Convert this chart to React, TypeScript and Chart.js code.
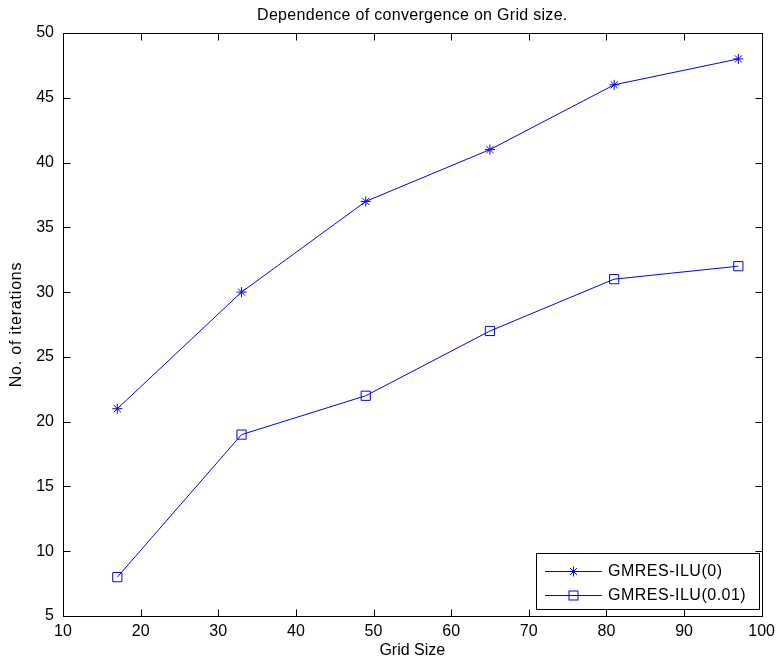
import React, { useEffect, useRef } from "react";
import { Chart, registerables } from "chart.js";

Chart.register(...registerables);

const gridSizes = [17, 33, 49, 65, 81, 97];
const gmresIlu0 = [21, 30, 37, 41, 46, 48];
const gmresIlu001 = [8, 19, 22, 27, 31, 32];
const seriesLabels = ["GMRES-ILU(0)", "GMRES-ILU(0.01)"];
const xTicks = [10, 20, 30, 40, 50, 60, 70, 80, 90, 100];
const yTicks = [5, 10, 15, 20, 25, 30, 35, 40, 45, 50];
const titleText = "Dependence of convergence on Grid size.";
const xTitle = "Grid Size";
const yTitle = "No. of iterations";

const FONT = "'Liberation Sans', Arial, Helvetica, sans-serif";
const BLUE = "rgb(0,0,255)";

function drawStar(ctx: CanvasRenderingContext2D, x: number, y: number, r: number) {
  ctx.beginPath();
  ctx.moveTo(x - r, y); ctx.lineTo(x + r, y);
  ctx.moveTo(x, y - r); ctx.lineTo(x, y + r);
  const d = r * Math.SQRT1_2;
  ctx.moveTo(x - d, y - d); ctx.lineTo(x + d, y + d);
  ctx.moveTo(x - d, y + d); ctx.lineTo(x + d, y - d);
  ctx.stroke();
}

const framePlugin = {
  id: "matlabFrame",
  afterDraw(chart: any) {
    const { ctx, chartArea } = chart;
    const { left, right, top, bottom } = chartArea;
    const xs = chart.scales.x;
    const ys = chart.scales.y;
    ctx.save();
    ctx.strokeStyle = "#000";
    ctx.lineWidth = 1;
    const L = Math.round(left) + 0.5, R = Math.round(right) + 0.5;
    const T = Math.round(top) + 0.5, B = Math.round(bottom) + 0.5;
    ctx.strokeRect(L, T, R - L, B - T);
    const tl = 7;
    ctx.beginPath();
    xTicks.forEach((v) => {
      const px = Math.round(xs.getPixelForValue(v)) + 0.5;
      ctx.moveTo(px, B); ctx.lineTo(px, B - tl);
      ctx.moveTo(px, T); ctx.lineTo(px, T + tl);
    });
    yTicks.forEach((v) => {
      const py = Math.round(ys.getPixelForValue(v)) + 0.5;
      ctx.moveTo(L, py); ctx.lineTo(L + tl, py);
      ctx.moveTo(R, py); ctx.lineTo(R - tl, py);
    });
    ctx.stroke();

    // title and axis titles
    ctx.fillStyle = "#000";
    ctx.font = `16px ${FONT}`;
    ctx.textAlign = "center";
    ctx.textBaseline = "middle";
    const cx = (left + right) / 2;
    (ctx as any).letterSpacing = "0.3px";
    ctx.fillText(titleText, cx, 16);
    (ctx as any).letterSpacing = "0px";
    ctx.fillText(xTitle, cx, 651);
    ctx.save();
    ctx.translate(17, (top + bottom) / 2);
    ctx.rotate(-Math.PI / 2);
    (ctx as any).letterSpacing = "0.8px";
    ctx.fillText(yTitle, 0, 0);
    ctx.restore();

    // legend
    const lx = 536.5, ly = 553.5, lw = 223, lh = 56;
    ctx.fillStyle = "#fff";
    ctx.fillRect(lx, ly, lw, lh);
    ctx.strokeStyle = "#000";
    ctx.strokeRect(lx, ly, lw, lh);
    const rows = [571, 595];
    ctx.strokeStyle = BLUE;
    rows.forEach((ry, i) => {
      ctx.beginPath();
      ctx.moveTo(545, ry + 0.5);
      ctx.lineTo(602, ry + 0.5);
      ctx.stroke();
      if (i === 0) drawStar(ctx, 573.5, ry + 0.5, 5);
      else ctx.strokeRect(569, ry - 4, 9, 9);
    });
    ctx.fillStyle = "#000";
    ctx.textAlign = "left";
    ctx.textBaseline = "middle";
    (ctx as any).letterSpacing = "0.5px";
    rows.forEach((ry, i) => ctx.fillText(seriesLabels[i], 608, ry + 1));
    (ctx as any).letterSpacing = "0px";
    ctx.restore();
  },
};

export default function App() {
  const ref = useRef<HTMLCanvasElement | null>(null);
  useEffect(() => {
    if (!ref.current) return;
    const chart = new Chart(ref.current, {
      type: "line",
      data: {
        datasets: [
          {
            label: seriesLabels[0],
            data: gridSizes.map((x, i) => ({ x, y: gmresIlu0[i] })),
            borderColor: BLUE,
            backgroundColor: BLUE,
            borderWidth: 1,
            pointStyle: "star",
            pointRadius: 5,
            pointBorderWidth: 1,
            pointBorderColor: BLUE,
            tension: 0,
          },
          {
            label: seriesLabels[1],
            data: gridSizes.map((x, i) => ({ x, y: gmresIlu001[i] })),
            borderColor: BLUE,
            backgroundColor: "transparent",
            borderWidth: 1,
            pointStyle: "rect",
            pointRadius: 6.5,
            pointBorderWidth: 1,
            pointBorderColor: BLUE,
            pointBackgroundColor: "transparent",
            tension: 0,
          },
        ],
      },
      options: {
        animation: false,
        responsive: false,
        maintainAspectRatio: false,
        layout: { padding: { top: 33, right: 14, left: 0, bottom: 0 } },
        plugins: {
          legend: { display: false },
          title: { display: false },
          tooltip: { enabled: false },
        },
        scales: {
          x: {
            type: "linear",
            min: 10,
            max: 100,
            grid: { display: false, drawTicks: false },
            border: { display: false },
            afterFit: (s: any) => { s.height = 45; },
            afterBuildTicks: (s: any) => { s.ticks = xTicks.map((v) => ({ value: v })); },
            ticks: {
              padding: 6,
              maxRotation: 0,
              color: "#000",
              font: { family: FONT, size: 16 },
            },
          },
          y: {
            type: "linear",
            min: 5,
            max: 50,
            grid: { display: false, drawTicks: false },
            border: { display: false },
            afterFit: (s: any) => { s.width = 63; },
            afterBuildTicks: (s: any) => { s.ticks = yTicks.map((v) => ({ value: v })); },
            ticks: {
              padding: 9,
              color: "#000",
              font: { family: FONT, size: 16 },
            },
          },
        },
      },
      plugins: [framePlugin],
    } as any);
    return () => chart.destroy();
  }, []);
  return (
    <div style={{ position: "fixed", left: 0, top: 0, width: 781, height: 661, background: "#fff" }}>
      <canvas ref={ref} width={781} height={661} style={{ width: 781, height: 661, display: "block" }} />
    </div>
  );
}
